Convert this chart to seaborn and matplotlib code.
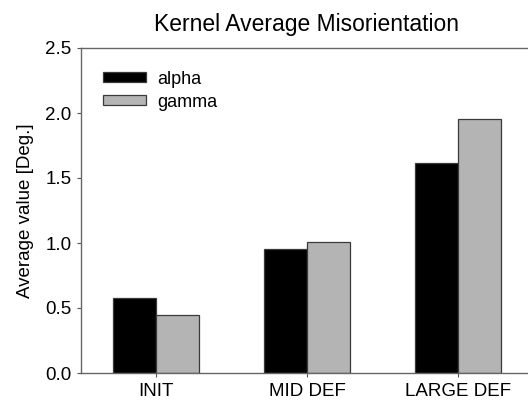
import matplotlib
matplotlib.use("Agg")
import matplotlib.pyplot as plt
import seaborn as sns
import pandas as pd

categories = ["INIT", "MID DEF", "LARGE DEF"]
alpha_vals = [0.575, 0.951, 1.612]
gamma_vals = [0.444, 1.008, 1.951]
series = ["alpha", "gamma"]
yticks = [0.0, 0.5, 1.0, 1.5, 2.0, 2.5]

df = pd.DataFrame({
    "cat": categories * 2,
    "val": alpha_vals + gamma_vals,
    "series": [series[0]] * 3 + [series[1]] * 3,
})

sns.set_style("white")
plt.rcParams["font.family"] = ["Liberation Sans", "DejaVu Sans"]
plt.rcParams["text.color"] = "black"
plt.rcParams["axes.labelcolor"] = "black"
plt.rcParams["xtick.labelcolor"] = "black"
plt.rcParams["ytick.labelcolor"] = "black"

fig = plt.figure(figsize=(5.28, 4.04), dpi=100)
ax = fig.add_axes([81/528, 31/404, (533-81)/528, (373-48)/404])

sns.barplot(data=df, x="cat", y="val", hue="series", order=categories,
            hue_order=series, palette=["#000000", "#b4b4b4"], width=0.57,
            edgecolor="#3a3a3a", linewidth=0.9, saturation=1, ax=ax)

ax.set_xlim(-0.5, 2.5)
ax.set_ylim(0, 2.5)
ax.set_yticks(yticks)
ax.set_yticklabels([f"{t:.1f}" for t in yticks])
ax.set_xlabel("")
ax.set_ylabel("Average value [Deg.]", fontsize=13.5, color="black")
ax.yaxis.set_label_coords(-0.105, 0.5)
ax.set_title("Kernel Average Misorientation", fontsize=16.5, pad=12, color="black")
ax.tick_params(axis="both", labelsize=13.5, length=3, width=0.8,
               color="#555555", labelcolor="black", direction="out",
               left=True, bottom=True, pad=4)
for s in ["left", "bottom", "top", "right"]:
    ax.spines[s].set_color("#666666")
    ax.spines[s].set_linewidth(1.0)

leg = ax.legend(frameon=False, loc="upper left", bbox_to_anchor=(22/452, 0.93),
                fontsize=13, handlelength=2.4, handleheight=0.5, handletextpad=0.6,
                labelspacing=0.33, borderaxespad=0, borderpad=0)
for t in leg.get_texts():
    t.set_color("black")

fig.savefig("out.png", dpi=100)
